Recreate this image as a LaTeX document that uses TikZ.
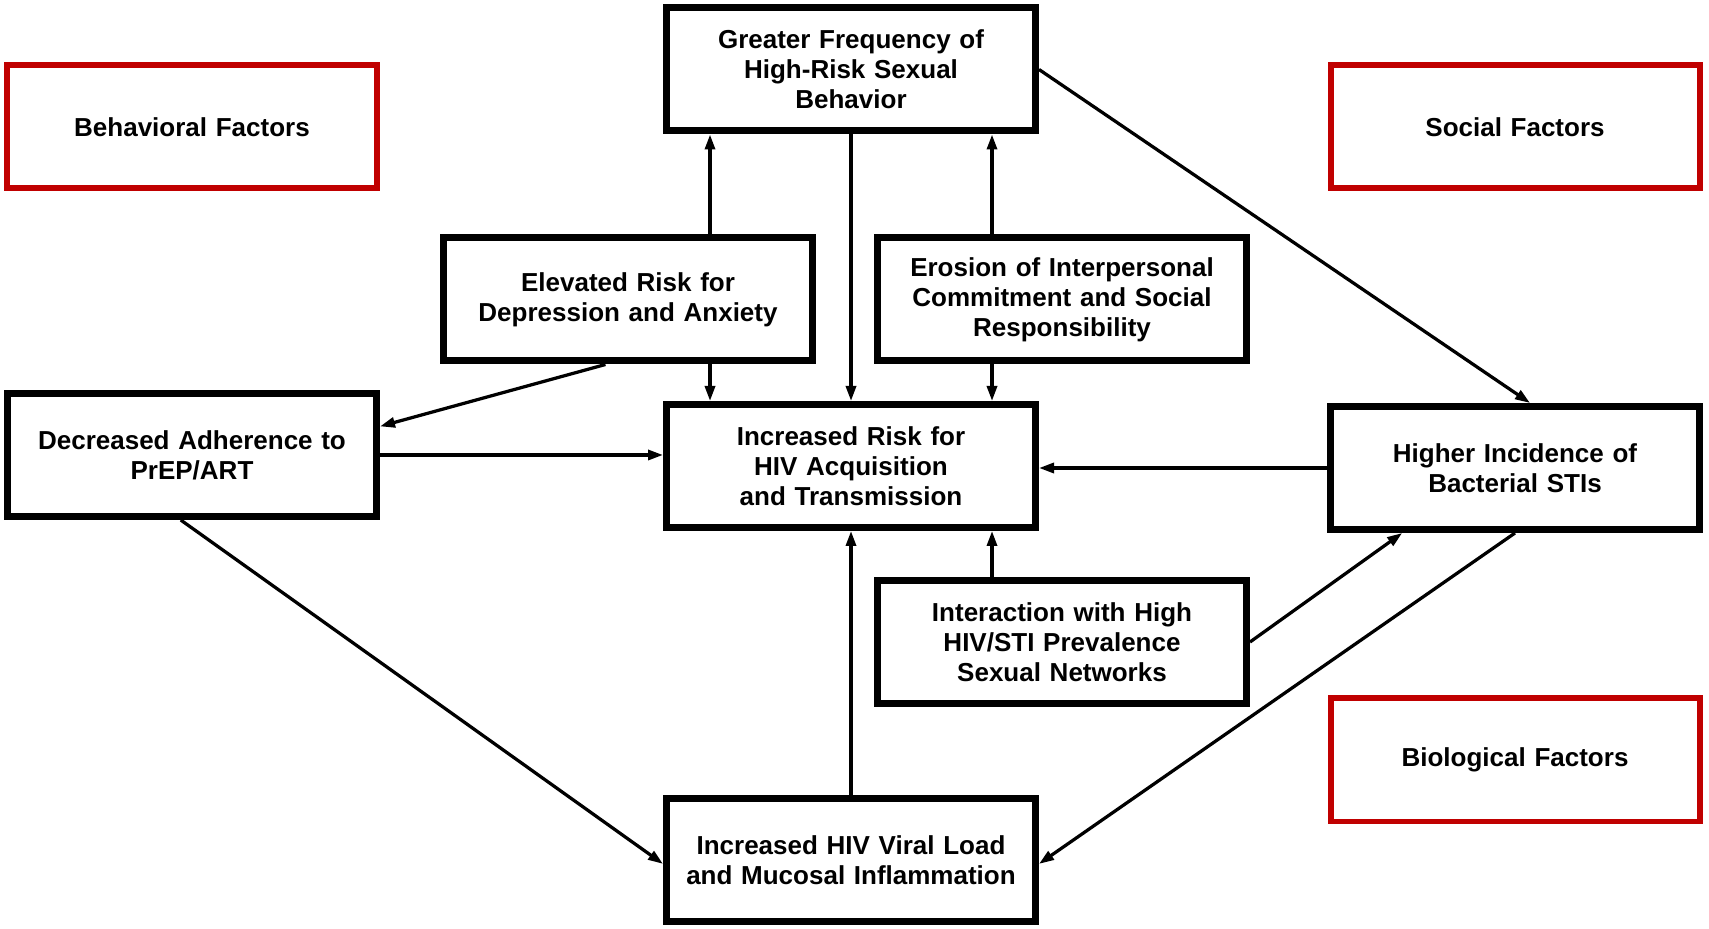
\documentclass[tikz,border=0pt]{standalone}
\usepackage{fontspec}
\setmainfont{Liberation Sans}
\usepackage{xcolor}
\usepackage{tikz}
\usetikzlibrary{arrows.meta, positioning, calc}

\definecolor{factorred}{HTML}{C00000}

\begin{document}
\begin{tikzpicture}[
    box/.style={rectangle, draw=black, line width=0.14cm, fill=white, text width=7.1cm, align=center, minimum width=7.38cm, minimum height=2.46cm, inner sep=2pt, font=\bfseries\fontsize{14.8}{17}\selectfont},
    factor/.style={box, draw=factorred, line width=0.12cm},
    arrow/.style={-{Triangle[length=0.3cm, width=0.2cm]}, line width=0.065cm}
]
    \useasboundingbox (0,0) rectangle (34.18,18.56);

    % Category labels (red frames)
    \node[factor] (behavioral) at (3.84,16.02) {Behavioral Factors};
    \node[factor] (social) at (30.30,16.02) {Social Factors};
    \node[factor] (biological) at (30.30,3.36) {Biological Factors};

    % Central column
    \node[box] (greater) at (17.02,17.17) {Greater Frequency of\\High-Risk Sexual\\Behavior};
    \node[box] (risk) at (17.02,9.24) {Increased Risk for\\HIV Acquisition\\and Transmission};
    \node[box] (viral) at (17.02,1.36) {Increased HIV Viral Load\\and Mucosal Inflammation};

    % Inner boxes
    \node[box] (elevated) at (12.56,12.57) {Elevated Risk for\\Depression and Anxiety};
    \node[box] (erosion) at (21.24,12.57) {Erosion of Interpersonal\\Commitment and Social\\Responsibility};
    \node[box] (interaction) at (21.24,5.72) {Interaction with High\\HIV/STI Prevalence\\Sexual Networks};

    % Outer boxes
    \node[box] (decreased) at (3.84,9.46) {Decreased Adherence to\\PrEP/ART};
    \node[box] (higher) at (30.30,9.20) {Higher Incidence of\\Bacterial STIs};

    % Attach points on the central column
    \coordinate (gl) at ($(greater.south west)!0.125!(greater.south east)$);
    \coordinate (gr) at ($(greater.south west)!0.875!(greater.south east)$);

    % Arrows around the central column
    \draw[arrow] (elevated.north -| gl) -- (gl);
    \draw[arrow] (erosion.north -| gr) -- (gr);
    \draw[arrow] (greater.south) -- (risk.north);
    \draw[arrow] (elevated.south -| gl) -- (risk.north -| gl);
    \draw[arrow] (erosion.south -| gr) -- (risk.north -| gr);
    \draw[arrow] (interaction.north -| gr) -- (risk.south -| gr);
    \draw[arrow] (viral.north) -- (risk.south);

    % Arrows on the left
    \draw[arrow] ($(elevated.south west)!0.44!(elevated.south east)$) -- ($(decreased.north east)!0.28!(decreased.south east)$);
    \draw[arrow] (decreased.east) -- (decreased.east -| risk.west);
    \draw[arrow] ($(decreased.south west)!0.47!(decreased.south east)$) -- ($(viral.north west)!0.53!(viral.south west)$);

    % Arrows on the right
    \draw[arrow] (greater.east) -- ($(higher.north west)!0.54!(higher.north east)$);
    \draw[arrow] (higher.west) -- (higher.west -| risk.east);
    \draw[arrow] (interaction.east) -- ($(higher.south west)!0.2!(higher.south east)$);
    \draw[arrow] (higher.south) -- ($(viral.north east)!0.53!(viral.south east)$);
\end{tikzpicture}
\end{document}
